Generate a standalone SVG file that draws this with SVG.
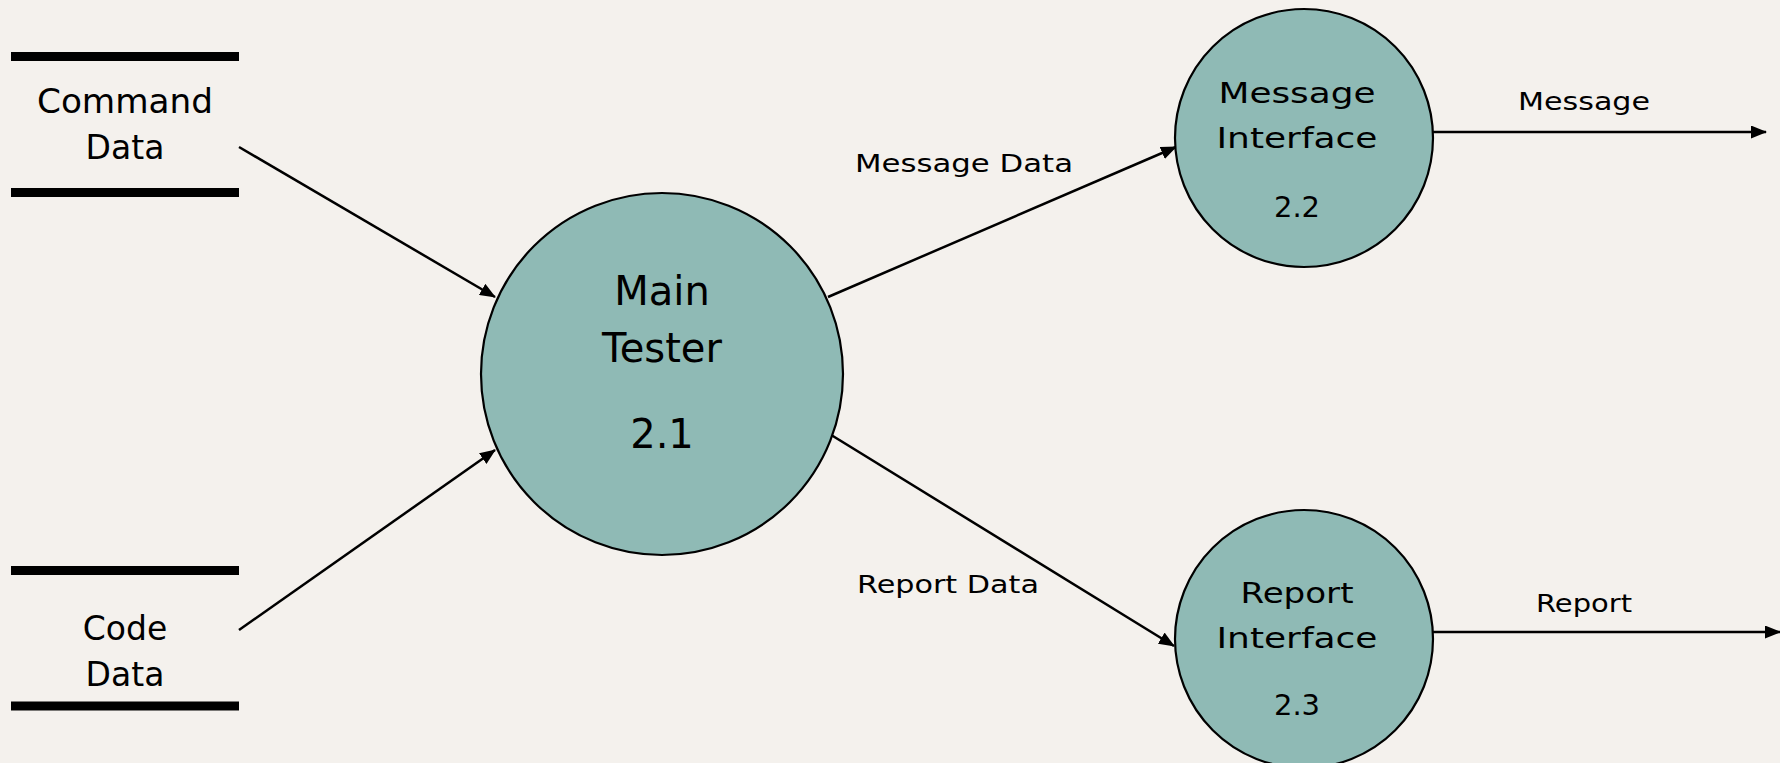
<svg xmlns="http://www.w3.org/2000/svg" width="1780" height="763" viewBox="0 0 1780 763">
<style>
text{font-family:"DejaVu Sans","Liberation Sans",sans-serif;fill:#000;text-anchor:middle}
.store{font-size:33px}
.main{font-size:40px}
.proc{font-size:29px}
.lbl{font-size:25px}
.bar{stroke:#000;stroke-width:9}
.bubble{fill:#8fbab5;stroke:#000;stroke-width:2.2}
.flow{stroke:#000;stroke-width:2.5;fill:none;marker-end:url(#ah)}
</style>
<defs>
<marker id="ah" viewBox="0 0 16 13" refX="15" refY="6.5" markerWidth="16" markerHeight="13" markerUnits="userSpaceOnUse" orient="auto">
<path d="M0,0 L16,6.5 L0,13 Z" fill="#000"/>
</marker>
</defs>
<rect width="1780" height="763" fill="#f4f1ed"/>
<g id="connectors">
<line class="flow" x1="239" y1="147" x2="495" y2="297"/>
<line class="flow" x1="239" y1="630" x2="495" y2="450"/>
<line class="flow" x1="828" y1="297" x2="1176" y2="147"/>
<line class="flow" x1="828" y1="433" x2="1174" y2="646"/>
<line class="flow" x1="1433" y1="132" x2="1766" y2="132"/>
<line class="flow" x1="1433" y1="632" x2="1780" y2="632"/>
<text class="lbl" x="964" y="172" textLength="218" lengthAdjust="spacingAndGlyphs">Message Data</text>
<text class="lbl" x="948" y="593" textLength="182" lengthAdjust="spacingAndGlyphs">Report Data</text>
<text class="lbl" x="1584" y="110" textLength="132" lengthAdjust="spacingAndGlyphs">Message</text>
<text class="lbl" x="1584" y="612" textLength="96" lengthAdjust="spacingAndGlyphs">Report</text>
</g>
<g id="command-data">
<line class="bar" x1="11" y1="56.5" x2="239" y2="56.5"/>
<line class="bar" x1="11" y1="192.5" x2="239" y2="192.5"/>
<text class="store" x="125" y="113" textLength="176" lengthAdjust="spacingAndGlyphs">Command</text>
<text class="store" x="125" y="159">Data</text>
</g>
<g id="code-data">
<line class="bar" x1="11" y1="570.5" x2="239" y2="570.5"/>
<line class="bar" x1="11" y1="706" x2="239" y2="706"/>
<text class="store" x="125" y="640">Code</text>
<text class="store" x="125" y="686">Data</text>
</g>
<g id="main-tester">
<circle class="bubble" cx="662" cy="374" r="181"/>
<text class="main" x="662" y="305">Main</text>
<text class="main" x="662" y="362">Tester</text>
<text class="main" x="662" y="448">2.1</text>
</g>
<g id="message-interface">
<circle class="bubble" cx="1304" cy="138" r="129"/>
<text class="proc" x="1297" y="103" textLength="157" lengthAdjust="spacingAndGlyphs">Message</text>
<text class="proc" x="1297" y="148" textLength="161" lengthAdjust="spacingAndGlyphs">Interface</text>
<text class="proc" x="1297" y="217">2.2</text>
</g>
<g id="report-interface">
<circle class="bubble" cx="1304" cy="639" r="129"/>
<text class="proc" x="1297" y="603" textLength="113" lengthAdjust="spacingAndGlyphs">Report</text>
<text class="proc" x="1297" y="648" textLength="161" lengthAdjust="spacingAndGlyphs">Interface</text>
<text class="proc" x="1297" y="715">2.3</text>
</g>
</svg>
